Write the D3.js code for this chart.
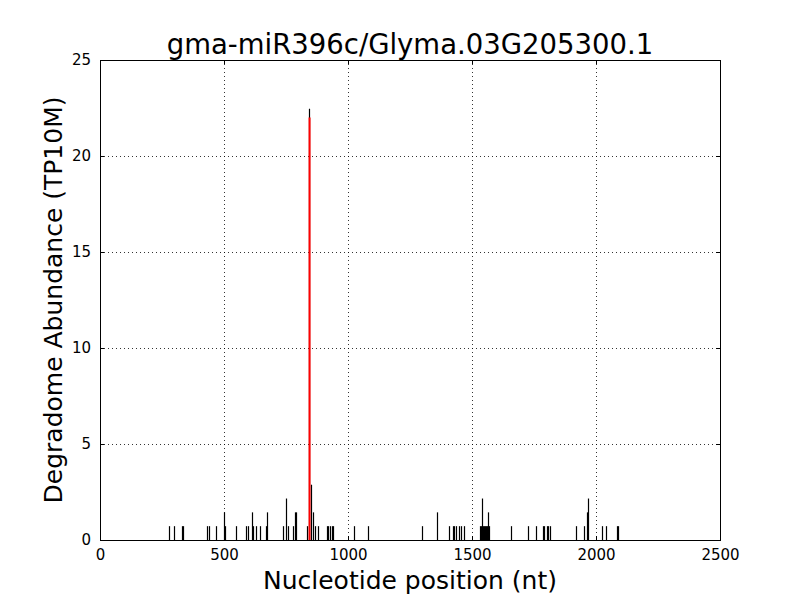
<!DOCTYPE html>
<html><head><meta charset="utf-8">
<script src="https://cdn.jsdelivr.net/npm/d3@7"></script>
<style>body{margin:0;background:#fff;} text{font-family:"DejaVu Sans",sans-serif;}</style>
</head><body><svg id="c" width="800" height="600"></svg>
<script>
const title = "gma-miR396c/Glyma.03G205300.1";
const xLabel = "Nucleotide position (nt)";
const yLabel = "Degradome Abundance (TP10M)";
const xTicks = [0, 500, 1000, 1500, 2000, 2500];
const yTicks = [0, 5, 10, 15, 20, 25];
const positions = [279,298,332,336,433,440,468,499,503,550,589,595,613,617,629,645,668,674,739,751,759,780,786,792,833,842,850,857,866,878,915,921,927,934,940,1024,1082,1300,1360,1408,1422,1429,1437,1447,1456,1467,1532,1536,1539,1543,1547,1551,1555,1559,1563,1566,1570,1656,1727,1759,1785,1790,1803,1808,1815,1921,1952,1962,1968,2023,2041,2083,2087];
const abundance = [0.72,0.72,0.72,0.72,0.72,0.72,0.72,1.44,0.72,0.72,0.72,0.72,1.44,0.72,0.72,0.72,0.72,1.44,0.72,2.16,0.72,0.72,1.44,1.44,0.72,22.46,2.88,1.44,0.72,0.72,0.72,0.72,0.72,0.72,0.72,0.72,0.72,0.72,1.44,0.72,0.72,0.72,0.72,0.72,0.72,0.72,0.72,0.72,2.16,0.72,0.72,0.72,0.72,0.72,0.72,1.44,0.72,0.72,0.72,0.72,0.72,0.72,0.72,0.72,0.72,0.72,0.72,1.44,2.16,0.72,0.72,0.72,0.72];
const sitePos = [843];
const siteVal = [22];

const svg = d3.select("#c");
const L=100,R=720,T=60,B=540;
const x = d3.scaleLinear().domain([0,2500]).range([L,R]);
const y = d3.scaleLinear().domain([0,25]).range([B,T]);

// grid
const g = svg.append("g");
xTicks.slice(1,-1).forEach(t=>g.append("line").attr("x1",x(t)+0.5).attr("x2",x(t)+0.5).attr("y1",T).attr("y2",B).attr("stroke","#000").attr("stroke-width",0.8).attr("stroke-dasharray","1,3"));
yTicks.slice(1,-1).forEach(t=>g.append("line").attr("x1",L).attr("x2",R).attr("y1",Math.round(y(t))+0.5).attr("y2",Math.round(y(t))+0.5).attr("stroke","#000").attr("stroke-width",0.8).attr("stroke-dasharray","1,3"));

// bars
svg.append("g").selectAll("line").data(positions.map((p,i)=>[p,abundance[i]])).join("line")
 .attr("x1",d=>Math.round(x(d[0]))+0.5).attr("x2",d=>Math.round(x(d[0]))+0.5)
 .attr("y1",y(0)).attr("y2",d=>y(d[1])).attr("stroke","#000").attr("stroke-width",1.2);
svg.append("g").selectAll("line").data(sitePos.map((p,i)=>[p,siteVal[i]])).join("line")
 .attr("x1",d=>x(d[0])+0.5).attr("x2",d=>x(d[0])+0.5)
 .attr("y1",y(0)).attr("y2",d=>y(d[1])).attr("stroke","#ff0000").attr("stroke-width",2);

// axes
const fmt = d3.format("d");
svg.append("g").attr("transform",`translate(0,${B})`).call(d3.axisBottom(x).tickValues(xTicks).tickFormat(fmt).tickSizeInner(-4).tickSizeOuter(0).tickPadding(9));
svg.append("g").attr("transform",`translate(${L},0)`).call(d3.axisLeft(y).tickValues(yTicks).tickFormat(fmt).tickSizeInner(-4).tickSizeOuter(0).tickPadding(9));
svg.append("g").attr("transform",`translate(0,${T})`).call(d3.axisTop(x).tickValues(xTicks).tickSizeInner(-4).tickSizeOuter(0).tickFormat(""));
svg.append("g").attr("transform",`translate(${R},0)`).call(d3.axisRight(y).tickValues(yTicks).tickSizeInner(-4).tickSizeOuter(0).tickFormat(""));
svg.selectAll(".domain").remove();
svg.selectAll(".tick text").attr("font-size",15).attr("fill","#000").attr("font-family","DejaVu Sans");
svg.selectAll(".tick line").attr("stroke","#000");
svg.append("rect").attr("x",L+0.5).attr("y",T+0.5).attr("width",R-L).attr("height",B-T).attr("fill","none").attr("stroke","#000").attr("stroke-width",1);

svg.append("text").attr("x",410).attr("y",54).attr("text-anchor","middle").attr("font-size",27.5).text(title);
svg.append("text").attr("x",410).attr("y",589).attr("text-anchor","middle").attr("font-size",25).text(xLabel);
svg.append("text").attr("transform","translate(62,300) rotate(-90)").attr("text-anchor","middle").attr("font-size",25).text(yLabel);
</script></body></html>
